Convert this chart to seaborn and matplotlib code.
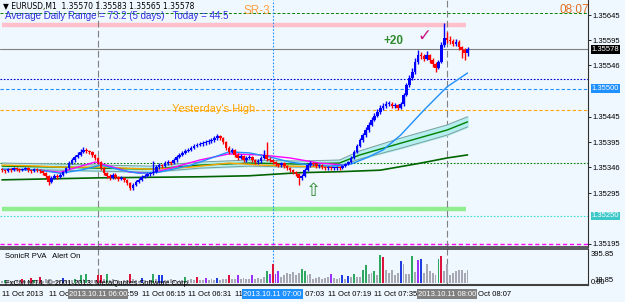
import numpy as np
import seaborn as sns
import matplotlib.pyplot as plt
import matplotlib.transforms as mtrans

sns.set_style("white")
plt.rcParams['font.family'] = ['Liberation Sans', 'DejaVu Sans']

# ---- M1 bars, 05:27 .. 08:07 ----
first_open = 1.35341
close = [1.35340, 1.35338, 1.35342, 1.35340, 1.35344, 1.35342, 1.35340, 1.35342, 1.35344, 1.35340,
         1.35338, 1.35342, 1.35340, 1.35338, 1.35334, 1.35329, 1.35317, 1.35325, 1.35329, 1.35327,
         1.35331, 1.35336, 1.35344, 1.35354, 1.35360, 1.35366, 1.35370, 1.35376, 1.35380, 1.35378,
         1.35376, 1.35370, 1.35364, 1.35356, 1.35344, 1.35334, 1.35329, 1.35325, 1.35331, 1.35327,
         1.35323, 1.35325, 1.35321, 1.35315, 1.35305, 1.35311, 1.35317, 1.35321, 1.35327, 1.35329,
         1.35332, 1.35334, 1.35336, 1.35346, 1.35350, 1.35348, 1.35354, 1.35356, 1.35354, 1.35360,
         1.35366, 1.35370, 1.35374, 1.35378, 1.35380, 1.35384, 1.35388, 1.35390, 1.35391, 1.35393,
         1.35395, 1.35397, 1.35399, 1.35403, 1.35407, 1.35403, 1.35395, 1.35384, 1.35376, 1.35380,
         1.35370, 1.35364, 1.35368, 1.35360, 1.35364, 1.35366, 1.35360, 1.35356, 1.35358, 1.35364,
         1.35370, 1.35362, 1.35360, 1.35356, 1.35352, 1.35350, 1.35354, 1.35348, 1.35344, 1.35340,
         1.35336, 1.35332, 1.35325, 1.35329, 1.35340, 1.35350, 1.35354, 1.35352, 1.35348, 1.35350,
         1.35346, 1.35344, 1.35346, 1.35344, 1.35344, 1.35346, 1.35344, 1.35348, 1.35352, 1.35356,
         1.35364, 1.35376, 1.35388, 1.35399, 1.35409, 1.35419, 1.35429, 1.35439, 1.35447, 1.35454,
         1.35462, 1.35466, 1.35470, 1.35470, 1.35466, 1.35468, 1.35462, 1.35470, 1.35488, 1.35507,
         1.35521, 1.35533, 1.35553, 1.35566, 1.35564, 1.35559, 1.35566, 1.35557, 1.35549, 1.35541,
         1.35553, 1.35586, 1.35600, 1.35596, 1.35594, 1.35588, 1.35592, 1.35582, 1.35576, 1.35570,
         1.35578]
high = [1.35344, 1.35342, 1.35345, 1.35344, 1.35347, 1.35346, 1.35344, 1.35345, 1.35347, 1.35346,
        1.35342, 1.35345, 1.35344, 1.35342, 1.35340, 1.35336, 1.35331, 1.35328, 1.35332, 1.35332,
        1.35334, 1.35339, 1.35347, 1.35358, 1.35364, 1.35370, 1.35376, 1.35382, 1.35386, 1.35384,
        1.35380, 1.35378, 1.35372, 1.35366, 1.35358, 1.35346, 1.35337, 1.35332, 1.35334, 1.35334,
        1.35329, 1.35328, 1.35327, 1.35323, 1.35317, 1.35314, 1.35320, 1.35324, 1.35330, 1.35332,
        1.35335, 1.35337, 1.35358, 1.35350, 1.35354, 1.35353, 1.35358, 1.35360, 1.35359, 1.35364,
        1.35370, 1.35374, 1.35378, 1.35382, 1.35384, 1.35388, 1.35392, 1.35394, 1.35395, 1.35397,
        1.35399, 1.35401, 1.35403, 1.35407, 1.35411, 1.35410, 1.35405, 1.35397, 1.35387, 1.35383,
        1.35382, 1.35373, 1.35372, 1.35370, 1.35367, 1.35369, 1.35368, 1.35362, 1.35361, 1.35367,
        1.35380, 1.35395, 1.35365, 1.35362, 1.35358, 1.35355, 1.35357, 1.35356, 1.35350, 1.35346,
        1.35342, 1.35338, 1.35334, 1.35333, 1.35344, 1.35354, 1.35358, 1.35357, 1.35354, 1.35353,
        1.35352, 1.35348, 1.35349, 1.35348, 1.35347, 1.35349, 1.35348, 1.35351, 1.35355, 1.35359,
        1.35368, 1.35380, 1.35392, 1.35403, 1.35413, 1.35424, 1.35434, 1.35444, 1.35452, 1.35460,
        1.35468, 1.35472, 1.35476, 1.35475, 1.35474, 1.35472, 1.35470, 1.35474, 1.35492, 1.35512,
        1.35528, 1.35540, 1.35560, 1.35576, 1.35572, 1.35568, 1.35574, 1.35569, 1.35560, 1.35552,
        1.35557, 1.35592, 1.35629, 1.35612, 1.35604, 1.35598, 1.35598, 1.35595, 1.35585, 1.35580,
        1.35583]
low = [1.35337, 1.35335, 1.35336, 1.35337, 1.35338, 1.35339, 1.35337, 1.35338, 1.35340, 1.35336,
       1.35335, 1.35336, 1.35337, 1.35334, 1.35331, 1.35325, 1.35311, 1.35314, 1.35322, 1.35323,
       1.35324, 1.35329, 1.35334, 1.35342, 1.35352, 1.35357, 1.35364, 1.35368, 1.35374, 1.35374,
       1.35372, 1.35366, 1.35360, 1.35352, 1.35340, 1.35330, 1.35325, 1.35321, 1.35322, 1.35323,
       1.35319, 1.35320, 1.35317, 1.35311, 1.35301, 1.35302, 1.35309, 1.35314, 1.35319, 1.35324,
       1.35326, 1.35329, 1.35331, 1.35334, 1.35343, 1.35344, 1.35346, 1.35351, 1.35350, 1.35352,
       1.35357, 1.35363, 1.35367, 1.35371, 1.35375, 1.35377, 1.35381, 1.35385, 1.35387, 1.35388,
       1.35390, 1.35392, 1.35394, 1.35396, 1.35400, 1.35399, 1.35391, 1.35380, 1.35372, 1.35373,
       1.35366, 1.35360, 1.35361, 1.35356, 1.35357, 1.35361, 1.35356, 1.35352, 1.35353, 1.35355,
       1.35361, 1.35358, 1.35356, 1.35352, 1.35348, 1.35346, 1.35347, 1.35344, 1.35340, 1.35336,
       1.35332, 1.35328, 1.35311, 1.35320, 1.35327, 1.35338, 1.35347, 1.35348, 1.35344, 1.35345,
       1.35342, 1.35340, 1.35341, 1.35340, 1.35341, 1.35341, 1.35340, 1.35342, 1.35346, 1.35350,
       1.35354, 1.35362, 1.35374, 1.35386, 1.35396, 1.35406, 1.35416, 1.35426, 1.35436, 1.35444,
       1.35451, 1.35459, 1.35463, 1.35466, 1.35462, 1.35463, 1.35458, 1.35460, 1.35467, 1.35485,
       1.35503, 1.35518, 1.35530, 1.35549, 1.35558, 1.35554, 1.35556, 1.35551, 1.35543, 1.35533,
       1.35538, 1.35550, 1.35582, 1.35590, 1.35588, 1.35584, 1.35584, 1.35576, 1.35560, 1.35556,
       1.35565]

# ---- indicator lines (bar index, price) ----
blue_i = [0, 13, 20, 27, 34, 41, 47, 54, 65, 71, 78, 85, 92, 99, 106, 113, 120, 126, 131, 137, 145, 153, 160]
blue_p = [1.35342, 1.35340, 1.35334, 1.35340, 1.35350, 1.35340, 1.35334, 1.35336, 1.35350, 1.35362,
          1.35376, 1.35374, 1.35366, 1.35356, 1.35350, 1.35348, 1.35352, 1.35366, 1.35380, 1.35409,
          1.35458, 1.35504, 1.35531]
dragon_i = [0, 20, 34, 51, 68, 85, 102, 116, 123, 137, 153, 160]
dragon_mid = [1.35348, 1.35346, 1.35344, 1.35342, 1.35350, 1.35354, 1.35352, 1.35354, 1.35370, 1.35393,
              1.35419, 1.35435]
dragon_half = [0.00006, 0.00006, 0.00006, 0.00006, 0.00006, 0.00006, 0.00006, 0.00006, 0.00008, 0.00010,
               0.00010, 0.00010]
slow_i = [0, 34, 68, 85, 102, 116, 130, 144, 153, 160]
slow_p = [1.35321, 1.35325, 1.35327, 1.35329, 1.35335, 1.35337, 1.35340, 1.35354, 1.35364, 1.35370]
mag_i = [13, 20, 32, 37, 44, 51, 58, 68, 78, 89, 99, 109, 118]
mag_p = [1.35340, 1.35336, 1.35356, 1.35348, 1.35336, 1.35334, 1.35344, 1.35360, 1.35372, 1.35370,
         1.35364, 1.35354, 1.35350]
orange_i = [0, 13, 20, 34, 51, 65, 78, 89, 99, 113]
orange_p = [1.35350, 1.35348, 1.35346, 1.35346, 1.35342, 1.35346, 1.35354, 1.35350, 1.35348, 1.35346]

# ---- SonicR PVA volume ----
volume = [30, 42, 30, 35, 30, 28, 35, 56, 30, 35,
          70, 42, 30, 85, 35, 56, 40, 30, 35, 30,
          40, 70, 40, 35, 40, 56, 45, 113, 50, 127,
          45, 40, 45, 113, 113, 50, 127, 45, 56, 35,
          40, 35, 40, 45, 127, 50, 40, 35, 70, 40,
          35, 45, 127, 50, 113, 113, 45, 40, 56, 40,
          35, 45, 40, 85, 40, 56, 45, 85, 40, 45,
          70, 40, 56, 45, 70, 45, 56, 60, 113, 56,
          50, 113, 50, 70, 50, 56, 113, 50, 70, 60,
          85, 170, 127, 268, 127, 170, 85, 113, 140, 127,
          155, 113, 140, 190, 170, 113, 127, 56, 70, 85,
          56, 70, 85, 127, 70, 56, 70, 113, 56, 100,
          85, 127, 85, 85, 183, 254, 127, 140, 170, 113,
          395.85, 370, 183, 140, 183, 113, 140, 310, 268, 127,
          127, 380, 150, 325, 340, 140, 268, 170, 140, 113,
          340, 385, 170, 268, 113, 140, 170, 183, 183, 140,
          183]
vol_kind = ("gGgggggRgg" "RGgRgggggg" "gBgggGgGgG" "gggRRgGggg" "ggggRgggBg"
            "ggGgBBgggg" "gggGgggRgg" "PgggBgggRg" "gPggggPggg" "gGPRPPgggg"
            "gggGGggggg" "gggPgggBgB" "gGggGGggGg" "GRgggggBgg" "gGgPBggggg"
            "GRgggggggg" "g")

price_ticks = [1.35645, 1.35595, 1.35546, 1.35445, 1.35395, 1.35346, 1.35295, 1.35195]
time_ticks = [0, 16, 32, 48, 64, 80, 96, 112, 128, 144, 160]
time_labels = ["11 Oct 2013", "11 Oct 05:43", "11 Oct 05:59", "11 Oct 06:15", "11 Oct 06:31",
               "11 Oct 06:47", "11 Oct 07:03", "11 Oct 07:19", "11 Oct 07:35", "11 Oct 07:51",
               "11 Oct 08:07"]

bg = '#F0F8FF'
W, H = 625, 302
fig = plt.figure(figsize=(W / 100, H / 100), dpi=100, facecolor=bg)
ax = fig.add_axes([0, 1 - 247 / H, 588 / W, 247 / H], facecolor=bg)
axv = fig.add_axes([0, 1 - 285 / H, 588 / W, 36 / H], facecolor=bg)

close_a = np.array(close)
open_a = np.r_[first_open, close_a[:-1]]
idx = np.arange(len(close_a))
cols = np.where(close_a >= open_a, '#0000FF', '#FF0000')

# horizontal levels
ax.axhline(1.35649, color='#008000', lw=0.7, ls=(0, (3, 2)), zorder=1)
ax.axhline(1.35578, color='#808080', lw=0.8, zorder=1)
ax.axhline(1.35519, color='#0000CD', lw=0.8, ls=(0, (1.5, 1.5)), zorder=1)
ax.axhline(1.35500, color='#1E90FF', lw=0.8, ls=(0, (3, 2)), zorder=1)
ax.axhline(1.35458, color='#FFA500', lw=0.8, ls=(0, (3, 2)), zorder=1)
ax.axhline(1.35354, color='#008000', lw=0.8, ls=(0, (1.5, 1.5)), zorder=1)
ax.axhline(1.35250, color='#40E0D0', lw=0.8, ls=(0, (1.5, 1.5)), zorder=1)
ax.axhline(1.35195, color='#FF00FF', lw=1.0, ls=(0, (3, 2)), zorder=1)
ax.plot([0, 159.5], [1.35625, 1.35625], color='#FFC0CB', lw=3.2, solid_capstyle='butt', zorder=1)
ax.plot([0, 159.5], [1.35264, 1.35264], color='#90EE90', lw=3.2, solid_capstyle='butt', zorder=1)

for a in (ax, axv):
    a.axvline(33, color='#808080', lw=0.8, ls=(0, (6, 3)), zorder=1)
    a.axvline(93, color='#1E90FF', lw=0.8, ls=(0, (1.5, 1.5)), zorder=1)
    a.axvline(153, color='#808080', lw=0.8, ls=(0, (6, 3)), zorder=1)

# indicators
d_mid = np.array(dragon_mid)
d_half = np.array(dragon_half)
ax.fill_between(dragon_i, d_mid - d_half, d_mid + d_half, color='#B4EEEE', zorder=2)
sns.lineplot(x=dragon_i, y=d_mid - d_half, ax=ax, color='#7A9E9E', lw=0.7, zorder=2)
sns.lineplot(x=dragon_i, y=d_mid + d_half, ax=ax, color='#7A9E9E', lw=0.7, zorder=2)
sns.lineplot(x=dragon_i, y=d_mid, ax=ax, color='#008000', lw=1.0, zorder=2)
sns.lineplot(x=slow_i, y=slow_p, ax=ax, color='#006400', lw=1.2, zorder=2)
sns.lineplot(x=orange_i, y=orange_p, ax=ax, color='#FFA500', lw=1.0, zorder=2)
sns.lineplot(x=mag_i, y=mag_p, ax=ax, color='#FF00FF', lw=1.0, zorder=2)
sns.lineplot(x=blue_i, y=blue_p, ax=ax, color='#1E90FF', lw=1.0, zorder=3)

# candles
ax.vlines(idx, low, high, colors=cols, lw=1.0, zorder=4)
body_lo = np.minimum(open_a, close_a)
body_h = np.maximum(np.abs(close_a - open_a), 0.000014)
ax.bar(idx, body_h, bottom=body_lo, width=0.9, color=cols, lw=0, zorder=4)

ax.set_xlim(-0.69, 201.4)
ax.set_ylim(1.35189, 1.356745)
ax.yaxis.tick_right()
ax.set_yticks(price_ticks)
ax.set_yticklabels([f"{t:.5f}" for t in price_ticks])
ax.tick_params(axis='y', labelsize=5.5, length=2, width=0.6, pad=1.5, colors='black')
ax.set_xticks([])
ax.set_xlabel('')
ax.set_ylabel('')
for s in ('top', 'left'):
    ax.spines[s].set_visible(False)
ax.spines['right'].set_color('#303030')
ax.spines['right'].set_linewidth(0.8)
ax.spines['bottom'].set_color('#404040')
ax.spines['bottom'].set_linewidth(1.2)

ytr = mtrans.blended_transform_factory(ax.transAxes, ax.transData)
for val, fc in [(1.35578, 'black'), (1.35500, '#1E90FF'), (1.35250, '#3CC8C8')]:
    ax.text(1.006, val, f"{val:.5f}", transform=ytr, fontsize=5.5, color='white', va='center',
            ha='left', bbox=dict(boxstyle='square,pad=0.12', fc=fc, ec='none'), zorder=6)

# volume panel
vcol = {'g': '#A8A8B4', 'G': '#2EA860', 'R': '#DC143C', 'B': '#1E3CE0', 'P': '#9B30FF'}
axv.bar(idx, volume, width=0.65, color=[vcol[k] for k in vol_kind], lw=0, zorder=3)
axv.set_xlim(-0.69, 201.4)
axv.set_ylim(-28, 476)
axv.set_yticks([])
axv.set_xticks(time_ticks)
axv.set_xticklabels(time_labels, ha='left')
axv.tick_params(axis='x', labelsize=5.5, length=2.5, width=0.6, pad=2, colors='black')
axv.spines['left'].set_visible(False)
axv.spines['right'].set_color('#303030')
axv.spines['right'].set_linewidth(0.8)
axv.spines['top'].set_color('#404040')
axv.spines['top'].set_linewidth(1.2)
axv.spines['bottom'].set_color('#404040')
axv.spines['bottom'].set_linewidth(1.5)

xtr = mtrans.blended_transform_factory(axv.transData, axv.transAxes)
for xi, lab, fc in [(33, "2013.10.11 06:00", '#808080'), (93, "2013.10.11 07:00", '#1E90FF'),
                    (153, "2013.10.11 08:00", '#808080')]:
    axv.text(xi, -0.25, lab, transform=xtr, fontsize=5.5, color='white', ha='center', va='center',
             bbox=dict(boxstyle='square,pad=0.15', fc=fc, ec='none'), zorder=6)

def px(x, y):
    return x / W, 1 - y / H

fig.text(*px(3, 6), "\u25bc EURUSD,M1  1.35570 1.35583 1.35565 1.35578", fontsize=5.5,
         color='black', va='center', family=['DejaVu Sans'])
fig.text(*px(5, 16), "Average Daily Range = 73.2 (5 days)   Today = 44.5", fontsize=7,
         color='#3030E0', va='center')
fig.text(*px(243, 11), "SR-3", fontsize=8.5, color='#FFA040', va='center')
fig.text(*px(559, 10), "08:07", fontsize=8.5, color='#E07020', va='center')
fig.text(*px(172, 109), "Yesterday's High", fontsize=8, color='#FFA500', va='center')
fig.text(*px(384, 41), "+20", fontsize=8.5, color='#2E8B2E', va='center', weight='bold')
fig.text(*px(418, 36), "\u2713", fontsize=12, color='#C71585', va='center', family=['DejaVu Sans'])
fig.text(*px(306, 191), "\u21e7", fontsize=13, color='#2E8B2E', va='center', family=['DejaVu Sans'])
fig.text(*px(5, 256), "SonicR PVA   Alert On", fontsize=5.5, color='black', va='center')
fig.text(*px(5, 283), "FxCM MT4, \u00a9 2001-2013, MetaQuotes Software Corp.", fontsize=5.5,
         color='black', va='center')
fig.text(*px(591, 254), "395.85", fontsize=5.5, color='black', va='center')
fig.text(*px(594, 281), "18.85", fontsize=5.5, color='black', va='center')
fig.text(*px(591, 283), "0.00", fontsize=5.5, color='black', va='center')

fig.savefig("out.png", dpi=100, facecolor=bg)
